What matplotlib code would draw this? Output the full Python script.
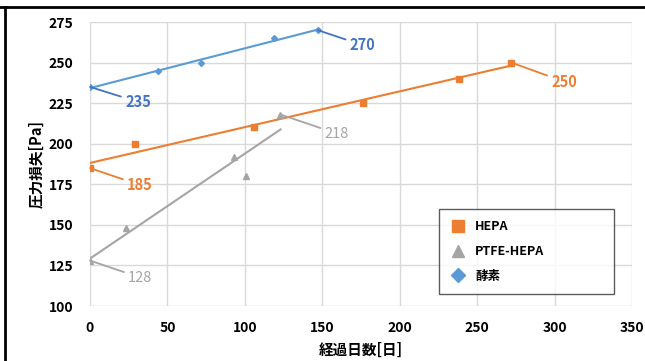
import matplotlib
matplotlib.use("Agg")
import matplotlib.pyplot as plt
from matplotlib.lines import Line2D
import numpy as np

plt.rcParams['font.family'] = ['Noto Sans CJK JP', 'DejaVu Sans']

# Data
hepa_x = [0, 29, 106, 176, 238, 272]
hepa_y = [185, 200, 210, 225, 240, 250]
ptfe_x = [0, 23, 93, 101, 123]
ptfe_y = [128, 148, 192, 180, 218]
enzyme_x = [0, 44, 72, 119, 147]
enzyme_y = [235, 245, 250, 265, 270]

series_names = ["HEPA", "PTFE-HEPA", "酵素"]
x_ticks = [0, 50, 100, 150, 200, 250, 300, 350]
y_ticks = [100, 125, 150, 175, 200, 225, 250, 275]
x_label = "経過日数[日]"
y_label = "圧力損失[Pa]"

c_orange = "#ED7D31"
c_gray = "#A5A5A5"
c_blue = "#5B9BD5"
c_blue_txt = "#4472C4"

fig = plt.figure(figsize=(6.45, 3.61), dpi=100)
ax = fig.add_axes([90/645, 1-306/361, (632-90)/645, (306-22)/361])

def trend(x, y, color):
    x = np.asarray(x, float); y = np.asarray(y, float)
    k, b = np.polyfit(x, y, 1)
    xs = np.array([x.min(), x.max()])
    ax.plot(xs, k*xs + b, color=color, lw=1.5, zorder=2)

trend(hepa_x, hepa_y, c_orange)
trend(ptfe_x, ptfe_y, c_gray)
trend(enzyme_x, enzyme_y, c_blue)

ax.plot(hepa_x, hepa_y, ls='none', marker='s', ms=4.5, color=c_orange, zorder=3)
ax.plot(ptfe_x, ptfe_y, ls='none', marker='^', ms=4, color=c_gray, zorder=3)
ax.plot(enzyme_x, enzyme_y, ls='none', marker='D', ms=3, color=c_blue, zorder=3)

def lab(x, y, dx, dy, color, lcolor, weight='bold'):
    ax.annotate(f"{y}", xy=(x, y), xytext=(dx, -dy), textcoords='offset pixels',
                ha='left', va='center', fontsize=10.5, color=color, fontweight=weight,
                arrowprops=dict(arrowstyle='-', color=lcolor, lw=1.3, shrinkA=1, shrinkB=0),
                zorder=4)

lab(enzyme_x[0], enzyme_y[0], 35, 15, c_blue_txt, c_blue_txt)
lab(enzyme_x[-1], enzyme_y[-1], 32, 15, c_blue_txt, c_blue_txt)
lab(hepa_x[0], hepa_y[0], 37, 17, c_orange, c_orange)
lab(hepa_x[-1], hepa_y[-1], 40, 19, c_orange, c_orange)
lab(ptfe_x[0], ptfe_y[0], 38, 17, c_gray, c_gray, 'normal')
lab(ptfe_x[-1], ptfe_y[-1], 44, 19, c_gray, c_gray, 'normal')

ax.set_xlim(0, 350)
ax.set_ylim(100, 275)
ax.set_xticks(x_ticks)
ax.set_yticks(y_ticks)
ax.grid(True, color='#D9D9D9', lw=1)
ax.set_axisbelow(True)
for s in ax.spines.values():
    s.set_visible(False)
ax.tick_params(length=0, labelsize=10)
ax.tick_params(axis='x', pad=11)
ax.tick_params(axis='y', pad=12)
for t in ax.get_xticklabels() + ax.get_yticklabels():
    t.set_fontweight('bold')
ax.set_xlabel(x_label, fontsize=10.5, fontweight='bold', labelpad=5)
ax.set_ylabel(y_label, fontsize=10.5, fontweight='bold', labelpad=3)

handles = [
    Line2D([], [], ls='none', marker='s', ms=8, color=c_orange),
    Line2D([], [], ls='none', marker='^', ms=8, color=c_gray),
    Line2D([], [], ls='none', marker='D', ms=7, color=c_blue),
]
leg = ax.legend(handles, series_names, loc='lower left',
                bbox_to_anchor=(0.644, 0.042, 0.323, 0.3), mode='expand',
                borderaxespad=0,
                fontsize=9, frameon=True, fancybox=False, edgecolor='#333333',
                labelspacing=0.95, borderpad=0.9, handletextpad=0.8, handlelength=1.2)
leg.get_frame().set_linewidth(1.0)
for t in leg.get_texts():
    t.set_fontweight('bold')

fig.add_artist(Line2D([0, 1], [1-7/361, 1-7/361], color='black', lw=2, transform=fig.transFigure))
fig.add_artist(Line2D([5/645, 5/645], [0, 1-7/361], color='black', lw=2, transform=fig.transFigure))

fig.savefig("out.png", dpi=100)
